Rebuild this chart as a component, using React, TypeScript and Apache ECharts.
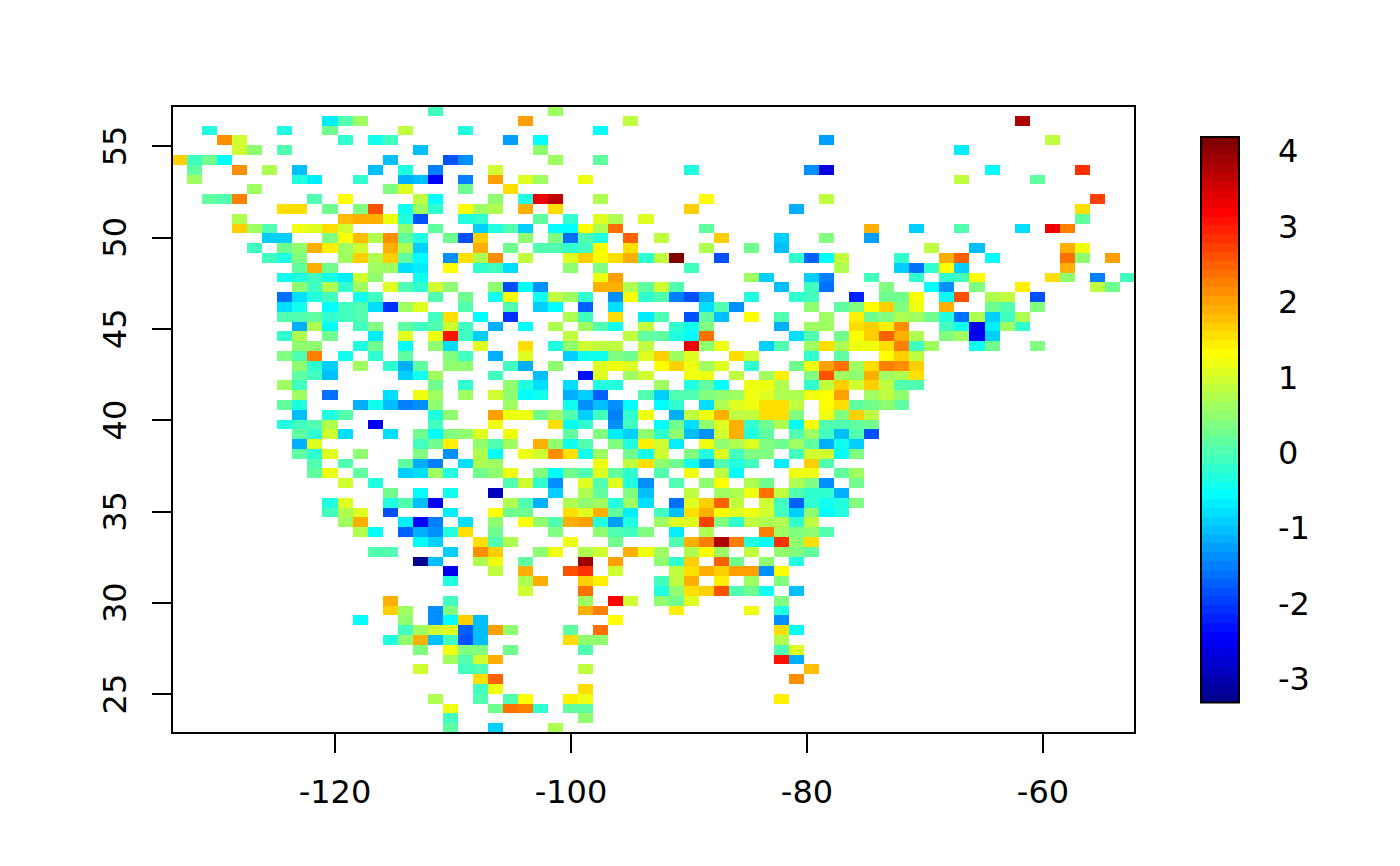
import React, { useEffect, useRef } from "react";
import * as echarts from "echarts";

// Field colour scale, low to high (64 bands)
const PALETTE = [
  "#00008F","#00009F","#0000AF","#0000BF","#0000CF","#0000DF","#0000EF","#0000FF",
  "#0010FF","#0020FF","#0030FF","#0040FF","#0050FF","#0060FF","#0070FF","#0080FF",
  "#008FFF","#009FFF","#00AFFF","#00BFFF","#00CFFF","#00DFFF","#00EFFF","#00FFFF",
  "#10FFEF","#20FFDF","#30FFCF","#40FFBF","#50FFAF","#60FF9F","#70FF8F","#80FF80",
  "#8FFF70","#9FFF60","#AFFF50","#BFFF40","#CFFF30","#DFFF20","#EFFF10","#FFFF00",
  "#FFEF00","#FFDF00","#FFCF00","#FFBF00","#FFAF00","#FF9F00","#FF8F00","#FF8000",
  "#FF7000","#FF6000","#FF5000","#FF4000","#FF3000","#FF2000","#FF1000","#FF0000",
  "#EF0000","#DF0000","#CF0000","#BF0000","#AF0000","#9F0000","#8F0000","#800000",
];
const VALUE_MIN = -3.31;
const VALUE_MAX = 4.19;

const LON_MIN = -133.81;
const LON_MAX = -52.2;
const LAT_MIN = 22.87;
const LAT_MAX = 57.19;
const GRID_N = 64;

const xTicks = [-120, -100, -80, -60];
const yTicks = [25, 30, 35, 40, 45, 50, 55];
const barTicks = [-3, -2, -1, 0, 1, 2, 3, 4];

// Each row (north to south): column, value, column, value, ...
const row00 = [17,-.1, 25,.6];
const row01 = [10,-.7, 11,0, 12,.6, 23,2.05, 30,.85, 56,3.75];
const row02 = [2,-.35, 7,-.35, 10,.3, 15,.85, 19,-.35, 28,-.55];
const row03 = [3,2.15, 4,.95, 11,-.25, 13,-.45, 14,-.1, 22,-1.3, 24,-.55, 43,-1.3, 58,.85];
const row04 = [4,.95, 5,.5, 7,0, 16,-1.05, 24,.5, 52,-.65];
const row05 = [0,1.65, 1,-.1, 2,.25, 3,-.55, 14,-1, 18,-1.8, 19,-1.4, 25,.65, 28,.15];
const row06 = [1,.1, 4,2.15, 6,.75, 8,-1, 13,-1, 15,-.35, 17,-1.5, 21,.95, 34,-.35, 42,-1.4, 43,-2.7, 54,-.55, 60,2.85];
const row07 = [1,.65, 8,-.3, 9,-.65, 12,-.15, 15,-1.15, 16,-1, 17,-2.4, 19,-1.5, 21,2.05, 23,1.1, 24,.65, 27,1.25, 52,.85, 57,.1];
const row08 = [5,.65, 14,.4, 15,1.1, 19,.25, 22,1.6];
const row09 = [2,.1, 3,.05, 4,2.25, 9,0, 11,1.35, 16,.85, 17,-.55, 21,.5, 23,-.35, 24,3.35, 25,3.65, 28,.75, 35,1.35, 43,.85, 61,2.75];
const row10 = [7,1.5, 8,1.5, 10,.25, 12,.35, 13,2.6, 15,-.45, 16,.65, 17,-.25, 19,1.35, 20,.65, 21,.75, 23,1.9, 25,1.6, 34,1.7, 41,-1.15, 60,1.6];
const row11 = [4,.7, 11,1.8, 12,1.95, 13,1.85, 14,1.25, 15,-.3, 16,-1.9, 19,-.3, 20,-.2, 24,.1, 26,-.25, 28,1.1, 29,.75, 31,1.1, 60,.1];
const row12 = [4,1.7, 5,.65, 6,0, 8,1.2, 9,1.1, 10,1.6, 11,.95, 15,.45, 17,.1, 20,-.95, 21,-.35, 22,.05, 23,-.85, 25,-.5, 26,-.5, 27,1.35, 28,.75, 29,2.4, 35,.1, 46,1.9, 49,-.95, 52,0, 56,-.8, 58,3.35, 59,2.3];
const row13 = [6,-.95, 7,-.85, 10,.35, 11,1.35, 12,1.8, 13,.7, 14,2.15, 15,.2, 16,-.35, 18,.25, 19,-1.8, 20,1.7, 23,.5, 25,.35, 26,-1.6, 27,0, 28,-.35, 30,2.5, 32,.85, 36,1.7, 40,-.95, 43,.35, 46,-1.3];
const row14 = [5,-.1, 7,.25, 8,.45, 9,1.9, 10,1.45, 11,.6, 12,.95, 14,1.85, 15,.75, 16,-.9, 20,1.9, 22,.25, 24,0, 25,0, 26,-.2, 27,-.1, 28,1.35, 30,1.5, 35,.7, 38,.25, 40,-1.05, 50,.85, 53,-1.05, 59,1.85, 60,1.25];
const row15 = [6,-.1, 7,-.3, 8,.4, 11,.65, 12,1.65, 13,.75, 14,1.7, 15,.1, 16,-.6, 18,-1.4, 19,1.5, 20,.75, 21,2.15, 23,.85, 26,1.1, 27,1.7, 28,1.35, 29,1.6, 30,1.9, 31,-.25, 32,.8, 33,4.15, 36,-1.8, 41,-.25, 42,-1.7, 43,-.55, 44,.85, 48,-.25, 51,1.85, 52,2.5, 54,-.55, 59,2.4, 60,.5, 62,2.05];
const row16 = [8,.1, 9,1.85, 10,.25, 13,.65, 14,.65, 15,-.8, 16,-.65, 18,1.35, 20,-.25, 21,-.1, 22,-.8, 26,.5, 28,.35, 34,-.1, 44,.7, 48,-.85, 49,-1.6, 50,-.2, 51,1.35, 52,-.95, 59,1.9];
const row17 = [7,-.45, 8,-.3, 9,-.1, 10,-.4, 11,-.65, 12,.95, 13,.5, 16,-.45, 28,1.2, 29,2.05, 38,.6, 39,-.95, 42,-.95, 43,-1.5, 46,-.1, 49,-.25, 51,-.25, 52,-.05, 53,1.35, 58,1.6, 59,.45, 61,-1.5, 63,-.1];
const row18 = [8,.45, 9,-.1, 10,.75, 11,-.2, 12,.6, 14,1.1, 15,0, 16,-.2, 17,1, 18,.45, 21,.45, 22,-1.8, 23,-.55, 24,-1.4, 28,1.95, 29,1.95, 30,.75, 31,.2, 32,.95, 33,0, 40,-1.05, 42,-.1, 43,-1.6, 47,.35, 50,-.55, 51,-1.4, 53,.35, 56,1.45, 61,.85, 62,.25];
const row19 = [7,-1.6, 8,-.8, 9,-.3, 10,-.1, 12,-.45, 13,-.1, 17,0, 19,.25, 21,-.4, 22,1.35, 24,-.45, 25,.85, 26,.6, 27,-.25, 29,-1.4, 30,1.35, 31,-.2, 32,0, 33,-1.5, 34,-1.8, 35,-1.15, 38,-.3, 41,-.15, 42,-.1, 45,-2.2, 47,.25, 48,.25, 49,1.35, 51,-.55, 52,2.65, 54,.7, 55,.85, 57,-1.9];
const row20 = [7,-.75, 8,-.45, 10,-.55, 11,-.1, 12,.05, 13,-.8, 14,-2.1, 15,.6, 16,1.1, 19,0, 22,.05, 24,-.85, 25,-.55, 27,-1.7, 29,-.75, 35,-.8, 36,0, 37,-1.4, 42,.5, 44,.1, 45,.35, 46,1.35, 47,1.7, 48,.35, 49,1.15, 51,1.9, 54,.25, 55,0, 57,.4];
const row21 = [7,0, 8,0, 9,.2, 10,-.2, 11,-.1, 12,.05, 17,-.1, 18,1.6, 20,-.55, 22,-2.1, 26,.7, 27,-.1, 29,1.6, 31,-.65, 32,0, 34,-1.8, 35,.1, 36,-1, 38,1.35, 40,0, 43,.6, 45,1.45, 46,.25, 47,.35, 48,.75, 49,.65, 50,.25, 51,-.35, 52,-1.6, 53,.75, 54,-.85, 55,-.1, 56,.75];
const row22 = [8,-1.15, 9,.75, 10,-.55, 12,-.1, 13,.4, 15,.2, 16,-.05, 17,0, 18,.95, 19,-.1, 21,-1.15, 23,-.55, 25,.7, 27,.6, 28,0, 29,-.45, 31,.85, 33,-.25, 34,-.4, 35,.35, 40,-1.15, 42,.6, 43,.6, 45,1.6, 46,1.7, 47,1.45, 48,2.15, 51,-.1, 52,-.45, 53,-2.5, 54,-.65, 55,.6, 56,-.2];
const row23 = [7,-.25, 8,.75, 10,.25, 13,-.7, 15,1.1, 17,1.2, 18,3.1, 19,-.1, 20,-.95, 26,.85, 30,.85, 31,.1, 32,.1, 33,-.35, 34,-.55, 35,2.4, 41,-.8, 42,0, 44,.3, 45,1.35, 46,1.65, 47,2.5, 48,1.9, 49,.75, 51,.4, 52,.6, 53,-2.5, 54,-.95];
const row24 = [8,.5, 9,.5, 12,-.3, 13,.25, 15,-.55, 17,.45, 18,-.8, 20,1.1, 23,1.5, 25,-.3, 26,.45, 27,.95, 28,.85, 29,.85, 31,.85, 34,3.35, 35,.5, 36,1.2, 39,-.95, 40,0, 42,.65, 43,1.6, 44,.75, 45,1.25, 46,1.15, 47,1.6, 48,2.25, 49,-.1, 50,.6, 53,-.45, 54,.25, 57,.4];
const row25 = [7,.4, 8,0, 9,2.25, 11,-.45, 13,-.25, 15,.1, 18,.4, 19,-.1, 21,-1.15, 23,1.1, 26,-.9, 27,-.45, 28,-.45, 29,.4, 30,.25, 31,1.1, 32,1.7, 33,.65, 34,1.1, 37,1.6, 38,.95, 42,-.2, 44,.1, 47,1.35, 48,1.7, 49,.85];
const row26 = [8,.5, 9,-.2, 10,-.95, 12,.65, 14,-.15, 15,-1.1, 16,.1, 18,.5, 19,.45, 22,-.1, 23,-1.1, 25,.5, 28,1.1, 29,1.2, 30,1.1, 32,1.35, 33,1.7, 34,1.25, 35,.65, 36,1.1, 38,-.25, 41,.25, 42,1.2, 43,2.05, 44,2.4, 45,.6, 46,1.5, 47,2.25, 48,2.15, 49,1.7];
const row27 = [8,.1, 9,-.05, 10,-1.05, 15,-.85, 16,-.45, 17,.65, 21,-.1, 24,-1.05, 27,-2.3, 28,1.1, 30,.65, 31,.95, 34,1.2, 35,1.25, 37,.85, 39,.65, 40,1.45, 42,.4, 43,2.65, 44,.65, 45,.5, 46,1.85, 47,.65, 48,.7, 49,1.6];
const row28 = [7,.6, 8,-.1, 17,.25, 19,-.15, 22,.5, 23,-.3, 24,-.75, 26,-.8, 28,-.3, 29,-.3, 32,.6, 34,-.35, 35,.1, 36,-.55, 38,1.25, 39,1.25, 40,.75, 42,-.25, 43,.85, 44,1.7, 45,.95, 46,1.65, 47,.85, 48,0, 49,0];
const row29 = [8,.65, 10,-1.6, 14,-.8, 16,1.15, 17,.6, 19,.6, 21,.95, 22,.5, 23,-.55, 24,-.45, 26,-1.1, 27,-.95, 28,-1.7, 31,0, 32,-.85, 33,.05, 34,0, 35,.35, 36,.45, 37,.6, 38,1.2, 39,1.1, 40,.75, 41,.75, 42,1.25, 43,1.35, 44,2.05, 46,.6, 47,.85, 48,.45];
const row30 = [7,.1, 8,-.3, 12,-1.15, 13,-.45, 14,-1.05, 15,-1.5, 16,-1.4, 17,.45, 22,.65, 26,-.4, 27,-1.4, 28,-1.05, 29,-1.4, 30,-.55, 32,-.55, 33,-.25, 35,-.8, 36,.75, 37,1.1, 38,1.2, 39,1.6, 40,1.5, 41,.85, 43,1.35, 44,1.6, 45,.1, 46,.25, 47,.45, 48,.1];
const row31 = [8,-1.05, 10,-.3, 11,.05, 17,-.35, 18,.5, 21,2.05, 22,1.2, 23,1.2, 24,.25, 25,.6, 26,0, 27,-.9, 28,-.1, 29,-1.5, 30,-.2, 31,1.2, 33,-1.15, 34,.85, 35,1.25, 36,1.85, 37,.8, 38,.85, 39,1.6, 40,1.55, 41,.4, 43,1.25, 44,.4, 45,1.7, 46,.85];
const row32 = [7,-.35, 8,-.1, 9,0, 10,.75, 13,-2.5, 17,-.1, 21,1.2, 25,1.6, 26,-.5, 27,-.25, 29,-1.4, 30,-.1, 32,-.55, 33,.3, 34,-.75, 35,.5, 36,1.1, 37,1.85, 38,-.2, 39,.3, 40,.75, 41,-.55, 42,1.35, 43,.05, 44,0, 45,.1, 46,.3];
const row33 = [8,.1, 9,-.2, 10,.95, 11,-.8, 14,-.8, 16,.25, 17,-.55, 18,.35, 19,.5, 20,1.1, 22,1.2, 26,.15, 28,.35, 29,-.65, 30,-.95, 31,.5, 32,-.2, 33,.5, 34,-1.05, 35,-1.4, 36,.95, 37,1.9, 38,-.3, 39,.1, 41,0, 42,.6, 43,-.1, 44,-1.05, 45,0, 46,-1.9];
const row34 = [8,-1.2, 9,1.1, 16,-.05, 17,.25, 18,1.45, 20,.5, 21,.05, 22,.6, 24,1.85, 25,.5, 26,-.45, 27,0, 29,.35, 30,-.3, 31,1.45, 32,.95, 33,-.7, 35,1.25, 36,.5, 37,.75, 38,1.1, 39,.35, 40,.3, 41,.6, 42,.1, 43,-1.1, 44,-.45, 45,-.95];
const row35 = [8,.1, 9,-.15, 10,1.1, 12,.45, 16,.35, 18,-1.4, 20,.75, 21,-.55, 23,1.2, 24,.95, 25,2.15, 26,1.6, 27,-.4, 28,.6, 30,.25, 31,-.45, 32,.95, 34,.35, 35,-.3, 36,1.1, 37,-.1, 38,.35, 39,.35, 41,-.1, 42,1, 43,1, 44,-.55, 45,.35];
const row36 = [9,0, 11,0, 15,.1, 16,-1.2, 17,-1.5, 19,-.75, 20,.75, 21,.65, 28,1.2, 30,.85, 31,1.5, 32,.5, 33,.3, 34,-.4, 35,-1.15, 36,0, 37,-.35, 38,-.1, 40,-.65, 42,1.7, 43,0];
const row37 = [9,.1, 10,1.2, 12,.1, 15,-.95, 16,-.8, 17,.6, 18,-.3, 20,.25, 21,.45, 22,1.25, 24,.35, 25,-.55, 26,.3, 27,.05, 28,1.1, 29,.1, 30,-.25, 32,0, 34,1.25, 36,.85, 37,-.55, 41,1.25, 42,1.25, 44,.1, 45,.6];
const row38 = [11,.95, 13,-.35, 22,0, 23,.95, 24,-.25, 25,-1.4, 27,1.1, 28,.05, 29,1.1, 30,-.35, 31,-1.4, 33,0, 35,.5, 36,1.35, 38,.7, 39,.25, 41,.7, 42,.35, 43,-1.35, 45,.25];
const row39 = [14,.25, 16,-.55, 18,-.45, 21,-2.85, 25,-.95, 27,.7, 28,.1, 30,.35, 31,-1.05, 34,.85, 36,.65, 37,.75, 38,1.2, 39,2.4, 40,.85, 41,.05, 42,-.15, 43,-.25, 44,-1.15];
const row40 = [10,-.3, 11,1.1, 14,-.35, 15,0, 16,-1.05, 17,-2.55, 22,.75, 23,0, 24,-1.2, 26,.7, 27,.5, 28,.6, 29,-.35, 30,.65, 31,-.8, 33,-1.6, 34,1.1, 35,1.7, 36,2.5, 37,.85, 39,.95, 40,-.1, 41,-1.7, 42,-.2, 43,-.4, 44,-.35, 45,.35];
const row41 = [10,-.05, 11,.7, 12,1.1, 14,-1.9, 18,-.65, 21,1.35, 22,.3, 23,.25, 26,1.5, 27,1.1, 28,1.85, 29,.1, 30,-.65, 32,-.1, 33,-1.05, 34,1.6, 35,1.9, 36,1.35, 37,1.1, 38,1.2, 39,.95, 40,-.1, 41,-.95, 42,.45, 43,-.55, 44,-.35];
const row42 = [11,.6, 12,1.85, 15,-.65, 16,-2.4, 17,-1.5, 19,-.75, 21,.5, 23,1.35, 24,.5, 25,0, 26,1.95, 27,2.05, 28,-.3, 29,-1.3, 30,-.3, 32,.6, 33,1.1, 34,1.1, 35,2.75, 36,.35, 37,-.25, 38,.8, 39,.75, 40,.75, 41,-.25, 42,.85];
const row43 = [12,.7, 13,-.55, 15,-1.7, 16,-1.15, 17,-1.4, 18,-.3, 19,1.6, 21,.3, 25,.35, 28,.45, 29,.05, 30,-.1, 31,.35, 33,-.7, 35,.75, 39,2.2, 40,.65, 41,.4, 42,.5, 43,.05];
const row44 = [16,-.55, 17,-.85, 20,1.5, 21,0, 22,.7, 26,1.2, 29,.25, 33,0, 34,1.9, 35,2.25, 36,3.75, 37,2.25, 38,-.3, 39,-.55, 40,2.85, 41,.5, 42,1.5];
const row45 = [13,0, 14,0, 18,-.95, 20,2.15, 21,1.7, 24,.5, 25,1.25, 27,.7, 28,.95, 30,1.9, 31,1.25, 32,.6, 34,.7, 35,1.35, 36,.6, 38,.85, 40,.5, 41,.35, 42,.1];
const row46 = [16,-3.25, 17,-1, 20,.7, 21,1.2, 23,.1, 27,3.85, 29,2.05, 32,.5, 33,-.25, 34,1.7, 36,2.5, 37,.25, 39,.45, 41,-.3];
const row47 = [18,-2.55, 21,.8, 23,1.9, 26,2.6, 27,2.85, 29,.95, 33,.8, 34,1.55, 35,1.9, 36,1.7, 37,2.05, 38,2.05, 39,-1.35, 40,1.35];
const row48 = [18,-.3, 23,.75, 24,1.9, 27,1.7, 28,1.45, 32,-.1, 33,.85, 34,1.85, 36,1.45, 38,.65, 40,.4];
const row49 = [23,.95, 27,2.4, 32,-.3, 33,.5, 34,1.6, 35,1.7, 36,2.6, 37,0, 38,.25, 39,-.45, 41,-1.05];
const row50 = [14,1.95, 18,-.05, 27,.65, 29,3.25, 30,.95, 32,.45, 33,.3, 34,1.1, 40,.35];
const row51 = [14,1.7, 15,.65, 17,-1.4, 18,.35, 27,1.95, 28,2.25, 33,1.45, 38,1.2, 40,-.3];
const row52 = [12,-.55, 15,.45, 17,-1.4, 18,-.55, 19,1.7, 20,-1.05, 29,1.35, 40,-1.4];
const row53 = [15,-.1, 16,.65, 17,.95, 18,1.1, 19,-1.7, 20,-1.05, 21,2.05, 22,.45, 26,.1, 28,2.4, 40,1.6, 41,-.55];
const row54 = [14,-.3, 15,.45, 16,1.85, 17,-1.05, 18,-.1, 19,-1.9, 20,-1.05, 26,1.5, 27,.45, 28,.45, 40,.7];
const row55 = [16,.35, 18,1.2, 19,.35, 20,.35, 22,.3, 27,0, 40,.05, 41,1.1];
const row56 = [18,.6, 19,.05, 20,.95, 21,1.85, 40,3.1, 41,-1.15];
const row57 = [16,.95, 19,-.1, 20,0, 27,.85, 42,1.8];
const row58 = [20,1.6, 21,2.5, 41,2.15];
const row59 = [20,-.05, 21,1.2, 27,1.6];
const row60 = [17,.7, 20,0, 22,.05, 23,1.35, 26,1.45, 27,1.25, 40,1.45];
const row61 = [18,1.25, 21,.25, 22,2.4, 23,2.25, 24,-.25, 26,.1, 27,.1];
const row62 = [18,-.1, 27,.5];
const row63 = [18,.1, 21,-.95, 25,.7];

const rows = [
  row00,row01,row02,row03,row04,row05,row06,row07,row08,row09,
  row10,row11,row12,row13,row14,row15,row16,row17,row18,row19,
  row20,row21,row22,row23,row24,row25,row26,row27,row28,row29,
  row30,row31,row32,row33,row34,row35,row36,row37,row38,row39,
  row40,row41,row42,row43,row44,row45,row46,row47,row48,row49,
  row50,row51,row52,row53,row54,row55,row56,row57,row58,row59,
  row60,row61,row62,row63,
];

const FONT = "DejaVu Sans";
const FONT_SIZE = 32;

const colorOf = (v: number) => {
  const n = PALETTE.length;
  const i = Math.floor(((v - VALUE_MIN) / (VALUE_MAX - VALUE_MIN)) * n);
  return PALETTE[Math.max(0, Math.min(n - 1, i))];
};

const dLon = (LON_MAX - LON_MIN) / GRID_N;
const dLat = (LAT_MAX - LAT_MIN) / GRID_N;
const dBand = (VALUE_MAX - VALUE_MIN) / PALETTE.length;

const cellData: number[][] = [];
rows.forEach((row, r) => {
  for (let k = 0; k < row.length; k += 2) {
    cellData.push([LON_MIN + row[k] * dLon, LAT_MAX - r * dLat, row[k + 1]]);
  }
});
const bandData = PALETTE.map((_, i) => [0, VALUE_MIN + i * dBand, i]);

const axisStyle = { color: "#000", width: 2 };

export default function App() {
  const ref = useRef<HTMLDivElement>(null);
  useEffect(() => {
    document.body.style.margin = "0";
    const chart = echarts.init(ref.current!, undefined, { renderer: "svg" });
    chart.setOption({
      animation: false,
      backgroundColor: "#fff",
      grid: [
        { left: 172, top: 106, width: 963, height: 627, show: true, borderColor: "#000", borderWidth: 2, backgroundColor: "transparent", z: 5 },
        { left: 1201, top: 137, width: 38, height: 565.5, show: true, borderColor: "#000", borderWidth: 2, backgroundColor: "transparent", z: 5 },
      ],
      xAxis: [
        {
          type: "value", gridIndex: 0, min: LON_MIN, max: LON_MAX,
          axisLine: { show: false }, splitLine: { show: false },
          axisTick: { show: true, length: 20, lineStyle: axisStyle, customValues: xTicks },
          axisLabel: { show: true, customValues: xTicks, color: "#000", fontFamily: FONT, fontSize: FONT_SIZE, margin: 43 },
        },
        { type: "value", gridIndex: 1, min: 0, max: 1, show: false },
      ],
      yAxis: [
        {
          type: "value", gridIndex: 0, min: LAT_MIN, max: LAT_MAX,
          axisLine: { show: false }, splitLine: { show: false },
          axisTick: { show: true, length: 20, lineStyle: axisStyle, customValues: yTicks },
          axisLabel: { show: true, customValues: yTicks, rotate: 90, color: "#000", fontFamily: FONT, fontSize: FONT_SIZE, margin: 41 },
        },
        {
          type: "value", gridIndex: 1, position: "right", min: VALUE_MIN, max: VALUE_MAX,
          axisLine: { show: false }, splitLine: { show: false },
          axisTick: { show: true, length: 20, lineStyle: axisStyle, customValues: barTicks },
          axisLabel: { show: true, customValues: barTicks, color: "#000", fontFamily: FONT, fontSize: FONT_SIZE, margin: 39 },
        },
      ],
      series: [
        {
          type: "custom", xAxisIndex: 0, yAxisIndex: 0, coordinateSystem: "cartesian2d", silent: true, z: 1,
          data: cellData,
          renderItem: (_: any, api: any) => {
            const lon = api.value(0), lat = api.value(1);
            const a = api.coord([lon, lat]);
            const b = api.coord([lon + dLon, lat - dLat]);
            const x = Math.round(a[0]), y = Math.round(a[1]);
            return {
              type: "rect",
              shape: { x, y, width: Math.round(b[0]) - x, height: Math.round(b[1]) - y },
              style: { fill: colorOf(api.value(2)) },
            };
          },
        },
        {
          type: "custom", xAxisIndex: 1, yAxisIndex: 1, coordinateSystem: "cartesian2d", silent: true, z: 1,
          data: bandData,
          renderItem: (_: any, api: any) => {
            const lo = api.value(1);
            const a = api.coord([0, lo + dBand]);
            const b = api.coord([1, lo]);
            const y = Math.round(a[1]);
            return {
              type: "rect",
              shape: { x: a[0], y, width: b[0] - a[0], height: Math.round(b[1]) - y },
              style: { fill: PALETTE[api.value(2)] },
            };
          },
        },
      ],
    });
    return () => chart.dispose();
  }, []);
  return <div ref={ref} style={{ position: "fixed", left: 0, top: 0, width: 1400, height: 866 }} />;
}
